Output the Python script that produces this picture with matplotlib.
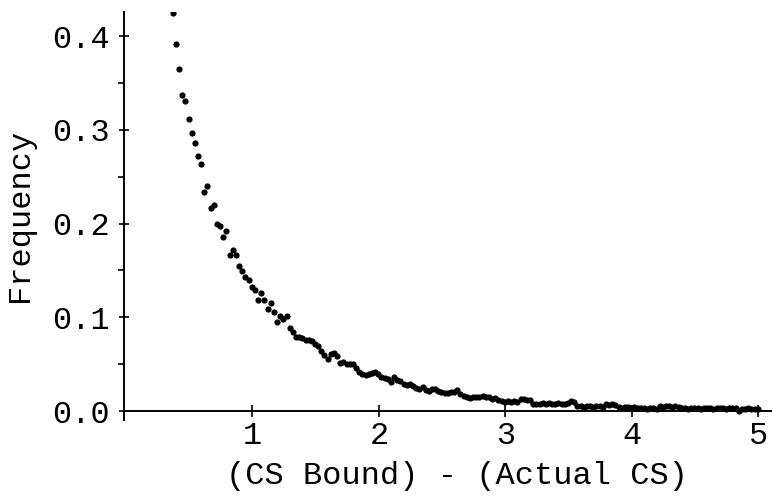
import numpy as np
import matplotlib
matplotlib.use("Agg")
import matplotlib.pyplot as plt
from matplotlib.ticker import MultipleLocator, FormatStrFormatter

# histogram of (CS Bound) - (Actual CS), bins of 0.025 starting at 0.37
bin_start = 0.37
bin_width = 0.025
freq = [
    0.425, 0.391, 0.365, 0.337, 0.331, 0.311, 0.297, 0.286, 0.272, 0.263,
    0.234, 0.240, 0.217, 0.220, 0.200, 0.197, 0.186, 0.192, 0.166, 0.172,
    0.166, 0.155, 0.149, 0.143, 0.140, 0.132, 0.129, 0.118, 0.126, 0.118,
    0.109, 0.115, 0.106, 0.095, 0.101, 0.098, 0.101, 0.089, 0.084, 0.079,
    0.079, 0.078, 0.076, 0.076, 0.075, 0.071, 0.069, 0.064, 0.060, 0.056,
    0.061, 0.062, 0.059, 0.051, 0.052, 0.050, 0.050, 0.050, 0.046, 0.042,
    0.040, 0.038, 0.040, 0.041, 0.042, 0.040, 0.036, 0.035, 0.034, 0.031,
    0.036, 0.033, 0.032, 0.029, 0.028, 0.029, 0.027, 0.025, 0.024, 0.026,
    0.022, 0.021, 0.023, 0.023, 0.021, 0.020, 0.019, 0.019, 0.020, 0.020,
    0.022, 0.018, 0.016, 0.015, 0.014, 0.015, 0.015, 0.015, 0.016, 0.015,
    0.015, 0.013, 0.014, 0.012, 0.011, 0.010, 0.011, 0.010, 0.011, 0.010,
    0.013, 0.013, 0.012, 0.012, 0.008, 0.007, 0.008, 0.009, 0.008, 0.009,
    0.008, 0.008, 0.009, 0.008, 0.008, 0.009, 0.011, 0.010, 0.005, 0.005,
    0.004, 0.005, 0.005, 0.004, 0.005, 0.005, 0.004, 0.007, 0.006, 0.007,
    0.006, 0.004, 0.003, 0.004, 0.004, 0.003, 0.004, 0.003, 0.003, 0.003,
    0.002, 0.003, 0.003, 0.002, 0.005, 0.004, 0.005, 0.005, 0.004, 0.005,
    0.004, 0.003, 0.003, 0.002, 0.003, 0.003, 0.003, 0.002, 0.003, 0.003,
    0.003, 0.002, 0.003, 0.003, 0.003, 0.002, 0.003, 0.003, 0.003, 0.000,
    0.002, 0.002, 0.003, 0.002, 0.002, 0.002,
]
x = bin_start + bin_width * np.arange(len(freq))

x_ticks = [1, 2, 3, 4, 5]
y_ticks = [0.0, 0.1, 0.2, 0.3, 0.4]

plt.rcParams['font.family'] = ['Liberation Mono', 'DejaVu Sans Mono']

fig = plt.figure(figsize=(7.72, 4.96), dpi=100)
ax = fig.add_axes([124 / 772, (496 - 420.4) / 496, 647 / 772, 408.4 / 496])

ax.scatter(x, freq, s=20, color='black', linewidths=0, zorder=3)

ax.set_xlim(-0.015, 5.1)
ax.set_ylim(-0.01, 0.4256)

for side in ['top', 'right']:
    ax.spines[side].set_visible(False)
ax.spines['bottom'].set_position(('data', 0))
ax.spines['left'].set_linewidth(1.4)
ax.spines['bottom'].set_linewidth(1.4)

ax.set_xticks(x_ticks)
ax.set_xticklabels([str(t) for t in x_ticks])
ax.set_yticks(y_ticks)
ax.yaxis.set_major_formatter(FormatStrFormatter('%.1f'))
ax.yaxis.set_minor_locator(MultipleLocator(0.05))

ax.tick_params(axis='x', direction='inout', length=9, width=1.2,
               labelsize=23, pad=3)
ax.tick_params(axis='y', which='major', direction='inout', length=7,
               width=1.2, labelsize=23, pad=7)
ax.tick_params(axis='y', which='minor', direction='out', length=4, width=1.2)

ax.set_xlabel("(CS Bound) - (Actual CS)", fontsize=23)
ax.xaxis.set_label_coords(0.515, -0.10)
ax.set_ylabel("Frequency", fontsize=23)
ax.yaxis.set_label_coords(-0.138, 0.503)

fig.savefig("out.png", dpi=100)
